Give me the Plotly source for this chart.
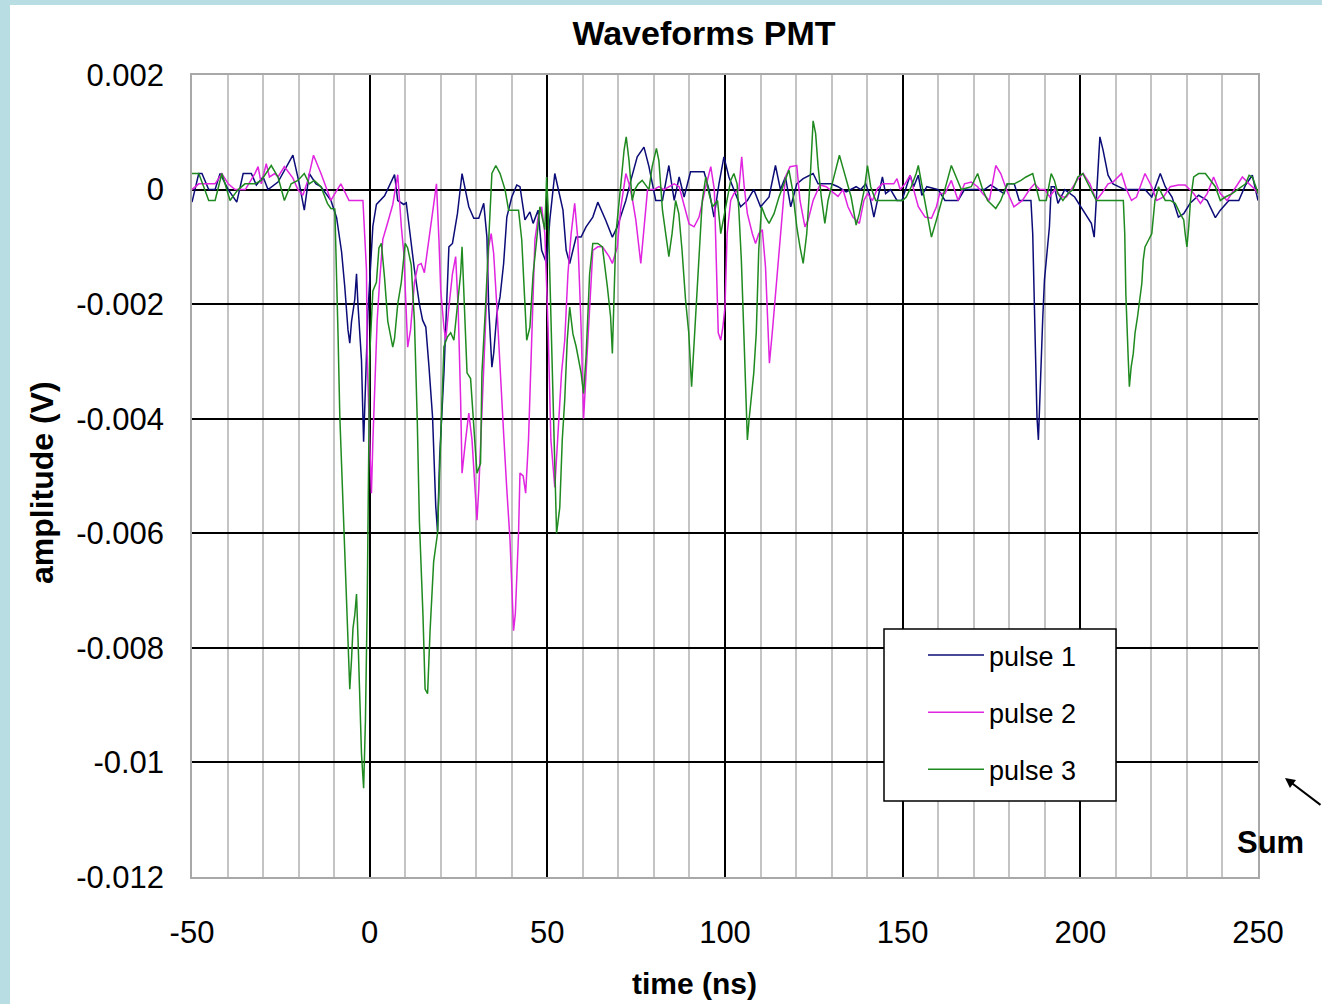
import plotly.graph_objects as go

# ---- data: PMT waveforms, time in ns, amplitude in mV ----
PULSE1_T = [-50, -48.1, -47.2, -45.3, -43.5, -42.1, -39.8, -37.4, -35.6, -33.3, -31.9, -30.0, -28.6, -25.8,
            -21.6, -19.8, -18.4, -17.0, -15.1, -13.7, -12.3, -10.9, -9.3, -7.9, -7.0, -6.1, -5.6, -5.1, -4.2,
            -3.7, -3.3, -2.3, -1.9, -1.7, -0.5, 0.3, 0.9, 1.9, 4.2, 7.0, 7.9, 9.6, 10.3, 12.6, 14.0, 14.9, 15.8,
            16.7, 17.7, 18.6, 19.1, 19.7, 20.9, 22.3, 23.3, 24.7, 26.0, 27.9, 29.3, 30.7, 32.1, 33.0, 33.5, 34.4,
            34.9, 35.8, 36.7, 37.7, 38.6, 40.0, 41.4, 42.3, 43.7, 45.1, 46.0, 47.4, 48.4, 49.8, 50.7, 52.1, 53.0,
            54.4, 55.3, 56.3, 57.2, 58.1, 59.5, 60.9, 62.8, 64.2, 66.4, 68.3, 69.7, 72.1, 73.5, 75.3, 77.2, 78.6,
            80.5, 82.4, 84.2, 85.7, 87.1, 88.5, 90.3, 94.1, 95.5, 96.9, 98.3, 99.7, 101.1, 103.0, 104.4, 106.3,
            108.1, 110.0, 112.4, 114.2, 115.6, 117.0, 118.5, 120.2, 122.0, 124.8, 126.2, 129.9, 131.8, 134.1,
            136.9, 138.2, 139.6, 140.6, 141.9, 142.9, 144.3, 145.2, 146.6, 148.4, 149.8, 152.1, 153.1, 154.4,
            155.4, 156.8, 160.0, 161.9, 165.6, 167.4, 173.0, 174.8, 178.5, 179.5, 181.4, 182.8, 186.1, 186.6,
            187.1, 187.8, 188.2, 188.8, 189.4, 189.9, 190.7, 191.3, 191.8, 192.7, 193.7, 195.6, 198.4, 200.8,
            203.1, 203.9, 204.5, 205.5, 206.4, 207.8, 209.2, 212.5, 218.2, 220.1, 222.5, 223.9, 225.8, 227.6,
            229.1, 230.9, 233.3, 235.7, 238.0, 239.4, 241.8, 244.6, 246.5, 248.4, 250.0]
PULSE1_MV = [-0.22, 0.28, 0.28, 0.0, 0.0, 0.28, 0.0, -0.22, 0.28, 0.28, 0.08, 0.22, 0.0, 0.13,
             0.6, 0.1, -0.36, 0.28, 0.1, 0.05, -0.07, -0.19, -0.49, -1.09, -1.7, -2.45, -2.68, -2.3, -1.92,
             -1.47, -2.0, -2.98, -3.96, -4.4, -2.15, -1.4, -0.64, -0.26, -0.11, 0.26, -0.19, -0.26, -0.23, -1.4,
             -2.0, -2.28, -2.4, -3.1, -3.97, -5.53, -5.97, -4.66, -3.2, -1.0, -0.94, -0.42, 0.28, -0.3, -0.5, -0.5,
             -0.24, -0.83, -2.05, -3.1, -2.86, -2.16, -1.87, -1.29, -0.48, -0.13, 0.08, 0.05, -0.53, -0.39, -0.59,
             -0.36, -1.06, -1.29, -0.53, 0.28, 0.05, -0.36, -1.06, -1.29, -1.06, -0.83, -0.83, -0.65, -0.48, -0.22,
             -0.53, -0.83, -0.65, -0.19, 0.16, 0.57, 0.74, 0.4, -0.19, -0.19, 0.42, -0.19, 0.22, -0.13, 0.31, 0.31,
             0.0, -0.48, 0.1, 0.57, 0.22, -0.07, -0.3, -0.19, 0.0, -0.3, -0.13, 0.42, 0.0, 0.22, -0.3, 0.1, 0.19,
             0.28, 0.1, 0.1, 0.05, -0.04, 0.05, 0.0, 0.1, -0.07, -0.48, -0.19, 0.22, -0.07, 0.0, -0.19, -0.19, 0.25,
             0.05, 0.25, -0.1, 0.05, 0.0, -0.19, -0.19, 0.0, 0.0, 0.08, -0.07, 0.1, 0.1, -0.19, -0.19, -0.77,
             -2.28, -3.97, -4.37, -3.2, -2.28, -1.58, -1.0, -0.65, 0.05, 0.05, -0.24, 0.0, -0.13, -0.36,
             -0.59, -0.83, -0.19, 0.92, 0.69, 0.25, 0.1, 0.0, 0.0, -0.13, 0.28, 0.05, -0.13, -0.48,
             -0.42, -0.24, -0.1, -0.19, -0.49, -0.36, -0.19, -0.19, 0.08, 0.25, -0.19]

PULSE2_T = [-50, -48.1, -43.5, -41.6, -39.8, -37.9, -35.0, -32.3, -31.4, -30.5, -29.1, -28.2, -26.7, -25.8,
            -24.0, -21.6, -20.2, -18.8, -17.4, -15.8, -13.7, -12.3, -10.9, -9.5, -8.1, -5.8, -1.9, -0.9, -0.7,
            0.0, 0.5, 0.9, 1.4, 2.1, 2.8, 3.7, 5.1, 6.5, 7.9, 8.4, 8.9, 9.6, 10.3, 10.7, 11.5, 12.6, 13.6, 14.5,
            15.4, 16.7, 18.0, 18.8, 19.5, 20.0, 20.9, 21.4, 22.3, 23.3, 24.2, 24.9, 25.6, 26.0, 27.0, 27.9, 28.8,
            29.8, 30.2, 30.7, 31.6, 32.6, 33.5, 34.2, 34.9, 35.8, 36.7, 37.7, 38.6, 39.5, 40.5, 41.0, 41.9, 42.3,
            43.2, 43.9, 44.7, 45.6, 46.5, 47.4, 48.4, 49.3, 50.2, 51.0, 52.1, 53.0, 54.0, 54.9, 55.8, 56.7, 57.7,
            58.6, 59.5, 60.2, 60.9, 61.8, 62.8, 64.2, 65.5, 67.4, 68.3, 69.7, 70.6, 72.1, 73.0, 74.0, 74.9, 76.3,
            77.2, 78.2, 80.0, 81.4, 82.8, 85.7, 87.1, 88.5, 89.9, 91.3, 92.7, 94.6, 96.0, 97.0, 97.6, 98.1, 98.8,
            99.4, 100.0, 100.6, 101.6, 102.5, 103.9, 104.7, 105.4, 106.3, 107.7, 108.6, 109.5, 110.5, 111.4,
            111.9, 112.5, 113.3, 114.2, 115.2, 116.0, 117.0, 118.3, 120.2, 121.1, 122.5, 123.4, 124.8, 126.7,
            128.5, 130.4, 131.8, 133.2, 134.6, 136.0, 137.8, 139.1, 140.1, 141.5, 142.9, 144.3, 147.5, 148.4,
            149.3, 150.7, 152.1, 153.1, 154.4, 156.3, 158.1, 159.5, 160.4, 161.9, 163.7, 165.6, 167.4, 169.3,
            171.1, 172.5, 174.4, 176.2, 177.6, 179.4, 181.3, 183.7, 185.7, 187.1, 188.6, 190.0, 191.4, 192.8,
            194.7, 196.1, 197.5, 199.4, 200.8, 202.7, 204.5, 206.0, 207.8, 209.2, 211.6, 213.0, 214.4, 215.8,
            218.2, 220.1, 221.5, 223.4, 225.3, 227.6, 229.5, 231.9, 233.8, 235.7, 237.5, 239.4, 241.3, 243.2,
            245.6, 247.5, 248.9, 250.0]
PULSE2_MV = [0.0, 0.1, 0.1, 0.28, 0.1, 0.0, 0.0, 0.28, 0.4, 0.1, 0.45, 0.22, 0.28, 0.22,
             0.4, 0.2, 0.0, -0.1, 0.16, 0.6, 0.28, 0.05, -0.19, -0.04, 0.1, -0.19, -0.19, -1.4, -2.9,
             -4.4, -5.3, -4.4, -3.5, -2.3, -1.6, -0.87, -0.57, -0.26, 0.26, -0.26, -0.64, -1.1, -2.0, -2.75, -2.45,
             -1.62, -1.32, -1.29, -1.45, -0.88, -0.3, 0.1, -0.88, -1.76, -2.4, -2.63, -2.05, -1.47, -1.17, -2.05,
             -3.67, -4.95, -4.37, -3.9, -4.37, -5.42, -5.77, -5.24, -3.79, -2.34, -1.0, -0.77, -1.12, -2.05, -3.2,
             -4.26, -5.24, -6.12, -7.7, -7.4, -6.0, -4.95, -5.0, -5.3, -4.37, -2.63, -0.88, -0.48, -0.3, -0.77,
             -2.4, -4.37, -5.2, -4.26, -3.2, -2.63, -1.47, -0.77, -0.24, -0.88, -2.4, -4.0, -3.2, -2.05, -1.06,
             -1.0, -1.0, -1.17, -1.29, -1.0, -0.35, 0.28, 0.1, -0.19, -0.53, -1.29, -0.65, 0.0, 0.0, 0.05, 0.0,
             0.1, 0.05, -0.3, -0.6, -0.65, -0.48, 0.05, 0.4, 0.0, -1.35, -2.5, -2.63, -2.4, -2.05, -0.77, -0.19,
             -0.07, 0.0, 0.57, 0.05, -0.42, -0.77, -0.94, -0.77, -0.7, -1.35, -2.2, -3.03, -2.5, -1.81, -1.06,
             -0.42, 0.22, 0.4, 0.42, -0.19, -0.65, -0.53, -0.19, 0.08, 0.05, -0.05, -0.12, 0.0, -0.3, -0.48,
             -0.59, -0.19, -0.07, -0.19, 0.02, 0.1, 0.1, 0.19, 0.0, 0.1, 0.25, 0.0, -0.3, -0.48, -0.5, -0.3, -0.07,
             -0.07, 0.16, -0.19, 0.1, 0.13, 0.05, -0.07, -0.19, 0.42, 0.28, -0.03, -0.3, -0.19, 0.0, 0.1, 0.0,
             0.0, -0.13, 0.0, -0.13, -0.13, 0.0, 0.19, 0.28, 0.1, -0.19, -0.07, 0.1, 0.13, 0.28, 0.0, -0.19,
             -0.13, 0.28, 0.05, -0.19, -0.13, 0.05, 0.08, 0.08, -0.07, -0.24, -0.07, 0.22, -0.07, -0.19, 0.0,
             0.22, 0.1, 0.02, -0.07]

PULSE3_T = [-50, -48.1, -46.7, -45.3, -43.5, -41.6, -40.7, -39.3, -37.9, -37.0, -35.1, -32.3, -30.5, -29.1,
            -27.7, -25.8, -24.0, -22.1, -20.2, -18.4, -17.0, -15.6, -13.7, -11.9, -10.9, -9.8, -9.3, -8.9, -8.4,
            -7.5, -6.8, -6.1, -5.6, -5.1, -4.7, -4.2, -3.7, -3.3, -2.8, -2.3, -1.7, -1.2, -0.7, -0.3, 0.0, 0.9,
            1.9, 2.6, 3.3, 4.2, 5.1, 6.5, 7.0, 7.9, 8.9, 10.0, 10.7, 11.7, 12.6, 13.4, 14.0, 15.0, 15.6, 16.3,
            17.0, 18.0, 19.1, 19.7, 20.5, 20.9, 21.9, 22.8, 23.7, 24.6, 25.6, 26.0, 26.7, 27.4, 28.4, 29.3, 30.2,
            31.2, 31.6, 32.6, 33.5, 34.4, 35.5, 36.7, 38.1, 39.1, 41.9, 42.8, 43.5, 44.2, 45.1, 46.0, 47.0, 47.9,
            49.3, 49.8, 50.2, 51.0, 51.6, 52.2, 52.6, 53.5, 54.2, 54.9, 55.6, 56.3, 57.2, 58.1, 59.5, 60.2, 60.9,
            61.9, 62.8, 64.2, 65.5, 66.9, 67.8, 68.3, 68.8, 69.3, 70.7, 71.6, 72.2, 73.0, 73.9, 74.6, 75.6, 76.7,
            78.6, 79.5, 80.7, 81.4, 82.4, 83.3, 84.2, 85.1, 86.1, 87.0, 87.9, 88.9, 89.8, 90.6, 91.3, 91.9, 92.7,
            93.6, 94.6, 95.5, 96.5, 97.9, 98.8, 99.7, 100.6, 101.6, 102.5, 103.4, 103.9, 104.6, 105.3, 105.8,
            106.3, 106.8, 107.5, 108.1, 108.8, 109.5, 110.3, 111.4, 112.4, 113.8, 115.2, 116.6, 118.0, 119.0,
            120.2, 121.1, 122.0, 123.0, 123.9, 124.8, 125.5, 126.2, 127.1, 128.1, 129.0, 130.4, 132.2, 133.1,
            134.1, 135.5, 136.9, 137.8, 139.2, 140.1, 141.0, 142.4, 150.0, 151.0, 152.4, 153.8, 154.4, 155.4,
            156.8, 158.1, 159.5, 160.9, 162.3, 163.7, 165.1, 166.5, 169.3, 171.1, 172.5, 173.9, 176.2, 177.6,
            179.4, 181.4, 183.3, 184.7, 186.6, 187.6, 188.5, 190.4, 191.8, 192.7, 193.7, 195.1, 196.5, 197.9,
            199.3, 200.7, 202.1, 203.6, 204.5, 212.1, 212.5, 212.8, 213.1, 213.5, 213.8, 214.3, 214.9, 215.4,
            216.1, 216.8, 217.3, 217.7, 218.2, 219.2, 220.1, 221.0, 222.0, 222.9, 223.9, 225.3, 226.7, 228.1,
            229.1, 229.5, 230.0, 230.5, 231.0, 231.9, 233.3, 235.2, 236.6, 238.0, 239.4, 240.8, 242.7, 244.6,
            246.5, 247.5, 248.4, 249.4, 250.0]
PULSE3_MV = [0.28, 0.28, 0.05, -0.19, -0.19, 0.28, 0.1, -0.19, -0.07, 0.0, 0.1, 0.1, 0.16, 0.28,
             0.42, 0.22, -0.19, 0.1, 0.16, 0.28, 0.1, 0.16, 0.05, -0.24, -0.33, -0.34, -1.4, -2.53, -3.96,
             -5.55, -6.68, -7.96, -8.72, -8.2, -7.66, -7.43, -7.06, -7.8, -8.8, -9.85, -10.45, -9.3, -7.28, -5.3,
             -2.9, -1.77, -1.62, -1.02, -0.94, -1.55, -2.3, -2.75, -2.6, -2.0, -1.62, -0.94, -1.02, -1.32, -2.3,
             -4.04, -5.8, -7.43, -8.72, -8.8, -7.7, -6.5, -6.0, -4.9, -3.56, -2.74, -2.57, -2.5, -2.63, -2.05,
             -1.47, -1.0, -2.05, -3.2, -3.3, -4.1, -4.95, -4.78, -3.2, -2.05, -0.88, 0.28, 0.42, 0.28, 0.0, -0.36,
             -0.36, -0.88, -1.76, -2.63, -2.4, -1.47, -0.88, -0.3, -0.7, 0.22, -0.3, -2.34, -3.8, -4.95, -6.0,
             -5.55, -4.37, -3.67, -2.63, -2.05, -2.52, -2.74, -3.2, -3.56, -2.92, -1.47, -0.94, -0.94, -1.0, -1.7,
             -2.22, -2.86, -1.64, -0.77, 0.1, 0.69, 0.92, 0.5, -0.19, 0.0, 0.1, 0.16, 0.0, 0.4, 0.72, 0.5, -0.36,
             -0.77, -1.17, -0.77, -0.19, -0.42, -1.05, -1.93, -2.5, -3.44, -2.63, -1.93, -1.23, -0.19, 0.22, -0.07,
             -0.3, -0.19, -0.77, -0.48, -0.13, 0.16, 0.28, 0.1, -0.36, -1.23, -2.5, -3.67, -4.37, -4.0, -3.56,
             -3.2, -2.5, -1.05, -0.3, -0.48, -0.59, -0.42, -0.13, 0.1, 0.34, 0.0, -0.65, -1.0, -1.29, -0.77, 0.1,
             1.2, 0.98, 0.4, -0.13, -0.59, -0.19, 0.16, 0.6, 0.4, 0.16, -0.13, -0.62, -0.42, 0.0, 0.42, 0.05,
             -0.19, -0.19, -0.13, 0.05, 0.28, 0.42, 0.1, -0.36, -0.83, -0.53, -0.19, 0.1, 0.42, 0.22, 0.0, 0.05,
             0.28, 0.0, -0.19, -0.33, -0.19, 0.1, 0.1, 0.16, 0.22, 0.28, 0.05, -0.19, -0.19, 0.28, 0.16, -0.07,
             -0.19, -0.07, 0.0, 0.22, 0.28, 0.1, -0.07, -0.19, -0.19, -0.77, -1.81, -2.5, -2.98, -3.44, -3.1,
             -2.86, -2.5, -2.22, -1.93, -1.64, -1.23, -1.0, -0.88, -0.77, -0.19, 0.05, -0.07, -0.19, -0.19, -0.24,
             -0.42, -0.53, -0.77, -1.0, -0.65, -0.19, 0.22, 0.28, 0.28, 0.16, 0.05, -0.19, -0.13, -0.07, 0.02,
             0.1, 0.25, 0.22, 0.05, -0.07]

SERIES_NAMES = ["pulse 1", "pulse 2", "pulse 3"]
SERIES_COLORS = ["#0c0c78", "#e024e0", "#1f8a1f"]

X_TICKS = [-50, 0, 50, 100, 150, 200, 250]
X_TICK_TEXT = ["-50", "0", "50", "100", "150", "200", "250"]
Y_TICKS = [0.002, 0.0, -0.002, -0.004, -0.006, -0.008, -0.01, -0.012]
Y_TICK_TEXT = ["0.002", "0", "-0.002", "-0.004", "-0.006", "-0.008", "-0.01", "-0.012"]

FONT = "Liberation Sans, Arial, sans-serif"

# ---- geometry (pixels) ----
W, H = 1322, 1004
PL, PR, PT, PB = 192, 1258, 75, 877


def px(x):
    return (x - PL) / (PR - PL)


def py(y):
    return (PB - y) / (PB - PT)


fig = go.Figure()
series = [(PULSE1_T, PULSE1_MV), (PULSE2_T, PULSE2_MV), (PULSE3_T, PULSE3_MV)]
for (t, mv), name, color in zip(series, SERIES_NAMES, SERIES_COLORS):
    fig.add_trace(go.Scatter(
        x=t, y=[v * 1e-3 for v in mv], mode="lines", name=name,
        legendgroup=name, line=dict(color=color, width=1.5),
    ))

axis_common = dict(
    showline=True, linecolor="#a8a8a8", linewidth=1.5, mirror=True,
    gridcolor="#000000", gridwidth=1.5, zeroline=True, zerolinecolor="#000000",
    zerolinewidth=1.5, ticks="", tickfont=dict(family=FONT, size=31, color="#000000"),
)

fig.update_xaxes(
    range=[-50, 250], tickvals=X_TICKS, ticktext=X_TICK_TEXT, ticklabelstandoff=27,
    minor=dict(dtick=10, showgrid=True, gridcolor="#c4c4c4", gridwidth=1.5, ticks=""),
    **axis_common,
)
fig.update_yaxes(
    range=[-0.012, 0.002], tickvals=Y_TICKS, ticktext=Y_TICK_TEXT, ticklabelstandoff=20,
    **axis_common,
)

shapes = [
    # white chart area inside the light-blue frame
    dict(type="rect", xref="paper", yref="paper", layer="below",
         x0=px(10), x1=px(W + 20), y0=py(H + 20), y1=py(5),
         fillcolor="#ffffff", line=dict(width=0)),
    # legend box
    dict(type="rect", xref="paper", yref="paper", layer="above",
         x0=px(884), x1=px(1116), y0=py(801), y1=py(629),
         fillcolor="#ffffff", line=dict(color="#000000", width=1.5)),
]

annotations = [
    dict(text="time (ns)", xref="paper", yref="paper", x=px(694), y=py(983),
         showarrow=False, font=dict(family=FONT, size=30, color="#000000", weight="bold"),
         xanchor="center", yanchor="middle"),
    dict(text="amplitude (V)", xref="paper", yref="paper", x=px(42), y=py(483),
         showarrow=False, textangle=-90,
         font=dict(family=FONT, size=32, color="#000000", weight="bold"),
         xanchor="center", yanchor="middle"),
    dict(text="Sum", xref="paper", yref="paper", x=px(1270), y=py(842),
         showarrow=False, font=dict(family=FONT, size=31, color="#000000", weight="bold"),
         xanchor="center", yanchor="middle"),
    dict(text="", xref="paper", yref="paper", x=px(1285), y=py(778),
         showarrow=True, arrowhead=2, arrowsize=1, arrowwidth=2, arrowcolor="#000000",
         ax=52, ay=28),
]

fig.update_layout(
    width=W, height=H,
    margin=dict(l=PL, r=W - PR, t=PT, b=H - PB),
    paper_bgcolor="#b8dde2", plot_bgcolor="#ffffff",
    title=dict(text="Waveforms PMT", x=704 / W, xanchor="center",
               y=1 - 33 / H, yanchor="middle", yref="container",
               font=dict(family=FONT, size=34, color="#000000", weight="bold")),
    showlegend=True,
    legend=dict(x=px(923), y=py(631), xanchor="left", yanchor="top",
                bgcolor="rgba(0,0,0,0)", borderwidth=0, tracegroupgap=19,
                itemwidth=56, font=dict(family=FONT, size=27, color="#000000")),
    shapes=shapes, annotations=annotations,
)

fig.write_html("out.html")
